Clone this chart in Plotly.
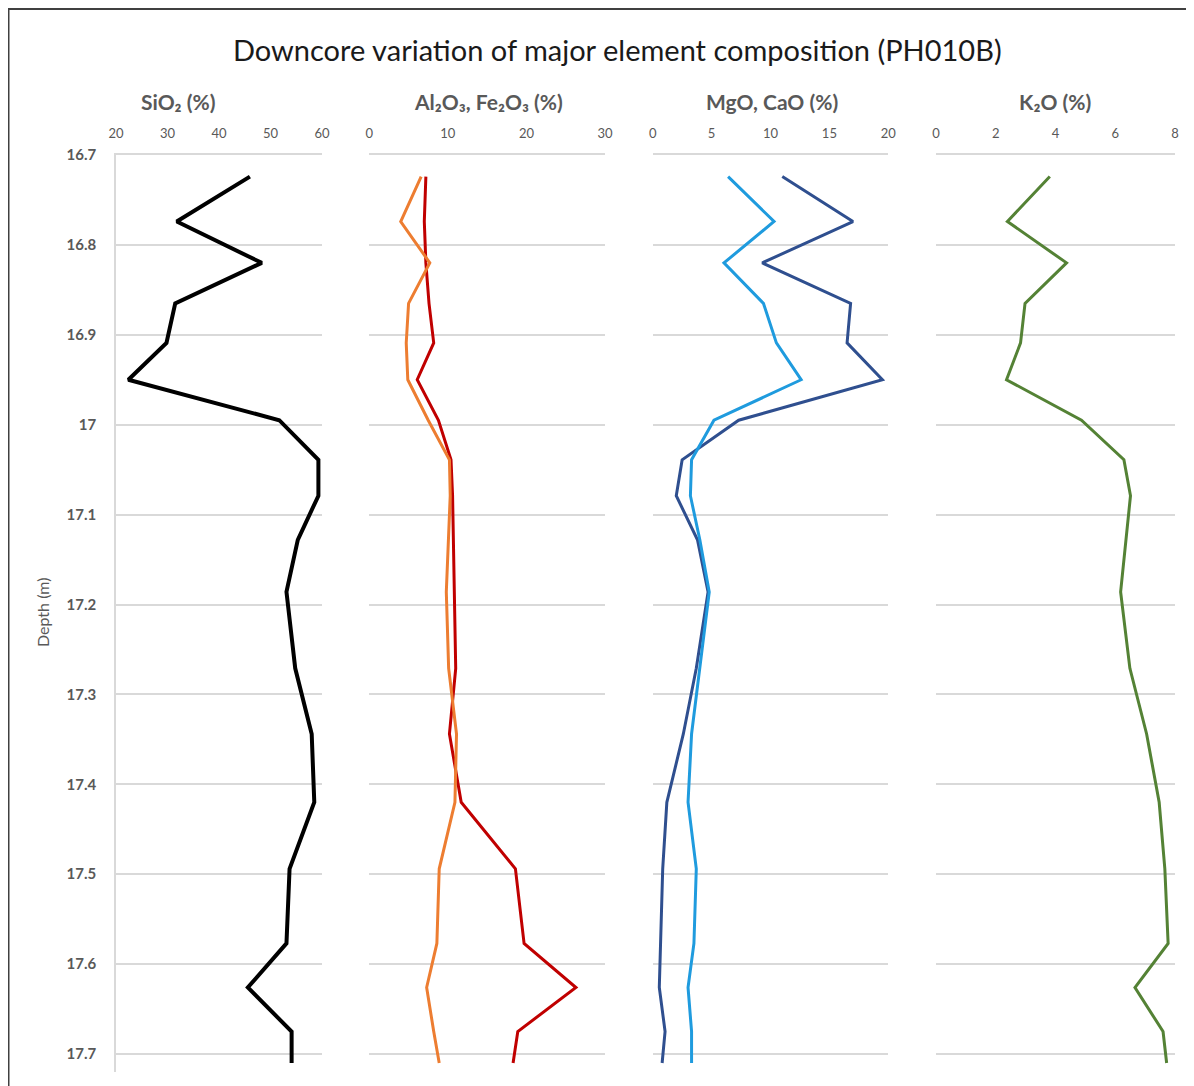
import plotly.graph_objects as go

# ---------------- data ----------------
depth = [16.724, 16.774, 16.820, 16.865, 16.909, 16.950, 16.995, 17.039, 17.079, 17.128,
         17.186, 17.271, 17.344, 17.420, 17.494, 17.577, 17.626, 17.675, 17.710]

sio2 = [46.0, 31.8, 48.3, 31.5, 29.8, 22.4, 51.7, 59.3, 59.3, 55.3,
        53.1, 54.8, 58.0, 58.5, 53.7, 53.1, 45.6, 54.1, 54.1]

al2o3 = [7.2, 7.0, 7.2, 7.6, 8.2, 6.1, 8.8, 10.4, 10.6, 10.7,
         10.8, 11.0, 10.2, 11.7, 18.6, 19.7, 26.3, 18.9, 18.3]
fe2o3 = [6.6, 4.0, 7.7, 5.0, 4.7, 4.9, 7.5, 10.2, 10.3, 10.1,
         9.8, 10.1, 11.1, 10.9, 8.9, 8.6, 7.3, 8.2, 8.9]

cao = [11.0, 17.0, 9.3, 16.8, 16.5, 19.5, 7.3, 2.5, 2.0, 3.8,
       4.7, 3.7, 2.6, 1.2, 0.85, 0.7, 0.56, 1.05, 0.8]
mgo = [6.4, 10.3, 6.05, 9.4, 10.5, 12.6, 5.2, 3.3, 3.2, 4.0,
       4.8, 4.0, 3.3, 3.0, 3.7, 3.5, 3.0, 3.3, 3.3]

k2o = [3.81, 2.39, 4.37, 2.98, 2.83, 2.36, 4.87, 6.29, 6.51, 6.35,
       6.18, 6.49, 7.05, 7.47, 7.66, 7.77, 6.66, 7.60, 7.72]

depth_ticks = [16.7, 16.8, 16.9, 17.0, 17.1, 17.2, 17.3, 17.4, 17.5, 17.6, 17.7]
depth_ticktext = ["16.7", "16.8", "16.9", "17", "17.1", "17.2", "17.3", "17.4", "17.5", "17.6", "17.7"]

panel_titles = ["SiO₂ (%)", "Al₂O₃, Fe₂O₃ (%)", "MgO, CaO (%)", "K₂O (%)"]
x_ranges = [[20, 60], [0, 30], [0, 20], [0, 8]]
x_dticks = [10, 10, 5, 2]
chart_title = "Downcore variation of major element composition (PH010B)"

# ---------------- layout geometry (page pixels; page body has an 8px margin) ----------------
OFF = 8
W, H = 1194 - OFF, 1086 - OFF
L, R, T, B = 116 - OFF, 19, 155 - OFF, 14
PW = W - L - R
PH = H - T - B


def px2x(px):
    return (px - OFF - L) / PW


def py2y(py):
    return 1 - (py - OFF - T) / PH


domains = [[px2x(116), px2x(322)], [px2x(369.3), px2x(605)],
           [px2x(652.7), px2x(888.3)], [px2x(936), px2x(1175)]]
title_centers = [px2x(178), px2x(488), px2x(772), px2x(1055)]

FONT = "Lato, Open Sans, sans-serif"
GRAY = "#595959"
GRID = "#d9d9d9"

fig = go.Figure()

series = [
    (sio2, 1, "#000000", 4, "SiO₂"),
    (al2o3, 2, "#C00000", 3, "Al₂O₃"),
    (fe2o3, 2, "#ED7D31", 3, "Fe₂O₃"),
    (cao, 3, "#2F4F8F", 3, "CaO"),
    (mgo, 3, "#1F9BDE", 3, "MgO"),
    (k2o, 4, "#548235", 3, "K₂O"),
]
for vals, p, color, w, name in series:
    sfx = "" if p == 1 else str(p)
    fig.add_trace(go.Scatter(x=vals, y=depth, mode="lines", name=name,
                             line=dict(color=color, width=w),
                             xaxis="x" + sfx, yaxis="y" + sfx, showlegend=False))

layout = dict(width=W, height=H, margin=dict(l=L, r=R, t=T, b=B),
              paper_bgcolor="white", plot_bgcolor="white",
              font=dict(family=FONT, color=GRAY), showlegend=False)

for i in range(4):
    sfx = "" if i == 0 else str(i + 1)
    layout["xaxis" + sfx] = dict(
        domain=domains[i], range=x_ranges[i], dtick=x_dticks[i], tick0=0,
        side="top", anchor="y" + sfx, showgrid=False, zeroline=False,
        showline=True, linecolor=GRID, linewidth=1.5, ticks="",
        ticklabelstandoff=10, tickfont=dict(size=13, color=GRAY, family=FONT))
    yax = dict(domain=[0, 1], range=[17.72, 16.7], anchor="x" + sfx,
               tickvals=depth_ticks, ticktext=depth_ticktext,
               showgrid=True, gridcolor=GRID, gridwidth=1.5, zeroline=False, ticks="")
    if i == 0:
        yax.update(showline=True, linecolor=GRID, linewidth=1.5, showticklabels=True,
                   ticklabelstandoff=15,
                   tickfont=dict(size=15, color=GRAY, family=FONT, weight="bold"))
    else:
        yax.update(showline=False, showticklabels=False, matches="y")
    layout["yaxis" + sfx] = yax

annotations = []
for i, t in enumerate(panel_titles):
    annotations.append(dict(text="<b>" + t + "</b>", x=title_centers[i],
                            y=py2y(101), xref="paper", yref="paper", showarrow=False,
                            xanchor="center", yanchor="middle",
                            font=dict(size=21, color=GRAY, family=FONT)))
annotations.append(dict(text=chart_title, x=px2x(617), y=py2y(50), xref="paper", yref="paper",
                        showarrow=False, xanchor="center", yanchor="middle",
                        font=dict(size=29, color="#1a1a1a", family=FONT)))
annotations.append(dict(text="Depth (m)", x=px2x(42), y=py2y(613), xref="paper", yref="paper",
                        showarrow=False, textangle=-90, xanchor="center", yanchor="middle",
                        font=dict(size=16, color=GRAY, family=FONT)))
layout["annotations"] = annotations

layout["shapes"] = [dict(type="rect", xref="paper", yref="paper",
                         x0=px2x(8.5), x1=px2x(1220), y0=py2y(1110), y1=py2y(9),
                         line=dict(color="#404040", width=2), fillcolor="rgba(0,0,0,0)",
                         layer="above")]

fig.update_layout(**layout)
fig.write_html("out.html")
